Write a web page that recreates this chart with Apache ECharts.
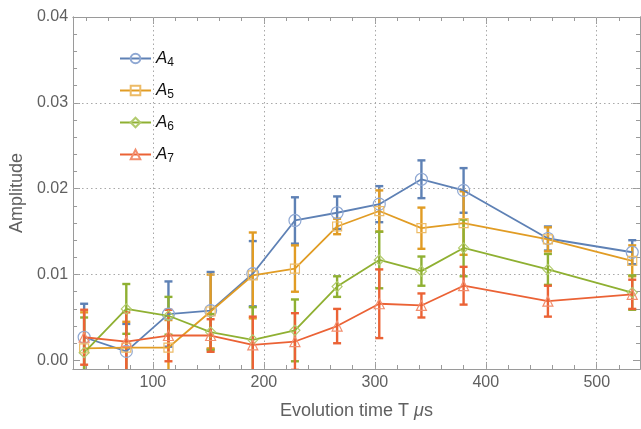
<!DOCTYPE html>
<html>
<head>
<meta charset="utf-8">
<script src="https://cdn.jsdelivr.net/npm/echarts@6/dist/echarts.min.js"></script>
<style>html,body{margin:0;padding:0;background:#fff}#c{width:641px;height:429px}</style>
</head>
<body>
<div id="c"></div>
<script>
// ---- data ----
const times = [38, 76, 114, 152, 190, 228, 266, 304, 342, 380, 456, 532];
const A4 = [0.0027, 0.00105, 0.0054, 0.0058, 0.0101, 0.0163, 0.0172, 0.0182, 0.0211, 0.0198, 0.0142, 0.0126];
const A4err = [0.0039, 0.0032, 0.0038, 0.0045, 0.0038, 0.0027, 0.0019, 0.0021, 0.0022, 0.0026, 0.0014, 0.0014];
const A5 = [0.0014, 0.0015, 0.0015, 0.0057, 0.0099, 0.0107, 0.0156, 0.0174, 0.0154, 0.0160, 0.0141, 0.0116];
const A5err = [0.0042, 0.0030, 0.0032, 0.0043, 0.0050, 0.0027, 0.0009, 0.0024, 0.0024, 0.0037, 0.0014, 0.0018];
const A6 = [0.0009, 0.0060, 0.0052, 0.0033, 0.0024, 0.0035, 0.0086, 0.0117, 0.0104, 0.0131, 0.0106, 0.0079];
const A6err = [0.0041, 0.0029, 0.0022, 0.0021, 0.0038, 0.0036, 0.0012, 0.0033, 0.0017, 0.0033, 0.0018, 0.0020];
const A7 = [0.0027, 0.0022, 0.0029, 0.0029, 0.0018, 0.0022, 0.0040, 0.0066, 0.0064, 0.0087, 0.0069, 0.0077];
const A7err = [0.0032, 0.0034, 0.0030, 0.0019, 0.0033, 0.0033, 0.0020, 0.0040, 0.0014, 0.0022, 0.0018, 0.0017];
const seriesNames = ['A4', 'A5', 'A6', 'A7'];
const xMajorTicks = [100, 200, 300, 400, 500];
const yMajorTicks = [0, 0.01, 0.02, 0.03, 0.04];
const xGridLines = [100, 200, 300, 400, 500];
const yGridLines = [0.01, 0.02, 0.03];

// ---- styling ----
const colors = ['#5E81B5', '#E19C24', '#8FB032', '#EB6235'];
const lightColors = ['#8FA8D3', '#EDBB66', '#B2CB6E', '#F28E6E'];
const symbols = ['circle', 'rect', 'diamond', 'triangle'];
const symSizes = [12, 9, 10, 10];
const values = [A4, A5, A6, A7];
const errs = [A4err, A5err, A6err, A7err];

const xMinor = []; for (let v = 40; v <= 539; v += 20) xMinor.push(v);
const yMinor = []; for (let i = 0; i <= 20; i++) yMinor.push(+(i * 0.002).toFixed(3));

const frameColor = '#9a9a9a';
const labelColor = '#606060';
const FONT = 'Liberation Sans, Arial';

function xAx(pos, ticks, len, labels) {
  return {
    type: 'value', min: 28, max: 539, position: pos,
    axisLine: { show: true, onZero: false, lineStyle: { color: frameColor, width: 1 } },
    axisTick: { show: true, inside: true, length: len, customValues: ticks, lineStyle: { color: frameColor } },
    axisLabel: labels ? { show: true, customValues: ticks, color: labelColor, fontSize: 16, fontFamily: FONT, margin: 6 } : { show: false },
    splitLine: { show: false }
  };
}
function yAx(pos, ticks, len, labels) {
  return {
    type: 'value', min: -0.001, max: 0.04, position: pos,
    axisLine: { show: true, onZero: false, lineStyle: { color: frameColor, width: 1 } },
    axisTick: { show: true, inside: true, length: len, customValues: ticks, lineStyle: { color: frameColor } },
    axisLabel: labels ? { show: true, customValues: ticks, color: labelColor, fontSize: 16, fontFamily: FONT, margin: 5, formatter: v => v.toFixed(2) } : { show: false },
    splitLine: { show: false }
  };
}

const xAxes = [
  Object.assign(xAx('bottom', xMajorTicks, 7, true), {
    name: 'Evolution time T {i|μ}s', nameLocation: 'middle', nameGap: 33,
    nameTextStyle: { color: labelColor, fontSize: 18, fontFamily: FONT, rich: { i: { fontStyle: 'italic', fontSize: 18, color: labelColor, fontFamily: FONT } } }
  }),
  xAx('bottom', xMinor, 4, false),
  xAx('top', xMajorTicks, 7, false),
  xAx('top', xMinor, 4, false)
];
const yAxes = [
  Object.assign(yAx('left', yMajorTicks, 7, true), {
    name: 'Amplitude', nameLocation: 'middle', nameGap: 45,
    nameTextStyle: { color: labelColor, fontSize: 18, fontFamily: FONT }
  }),
  yAx('left', yMinor, 4, false),
  yAx('right', yMajorTicks, 7, false),
  yAx('right', yMinor, 4, false)
];

const series = [];
// grid lines
series.push({
  type: 'line', data: [], silent: true, xAxisIndex: 0, yAxisIndex: 0,
  markLine: {
    silent: true, symbol: ['none', 'none'], label: { show: false }, animation: false,
    lineStyle: { color: '#a8a8a8', type: [1.5, 3], width: 1 },
    data: xGridLines.map(v => ({ xAxis: v })).concat(yGridLines.map(v => ({ yAxis: v })))
  }
});
values.forEach((vals, k) => {
  series.push({
    type: 'custom', name: seriesNames[k] + ' error', clip: true, z: 3 + k,
    data: times.map((t, i) => [t, vals[i], errs[k][i]]),
    encode: { x: 0, y: 1 },
    renderItem: function (params, api) {
      const x = api.value(0), y = api.value(1), e = api.value(2);
      const top = api.coord([x, y + e]);
      const bot = api.coord([x, y - e]);
      const hw = 4;
      const st = { stroke: colors[k], lineWidth: 2.4 };
      return {
        type: 'group', children: [
          { type: 'line', shape: { x1: top[0], y1: top[1], x2: bot[0], y2: bot[1] }, style: st },
          { type: 'line', shape: { x1: top[0] - hw, y1: top[1], x2: top[0] + hw, y2: top[1] }, style: st },
          { type: 'line', shape: { x1: bot[0] - hw, y1: bot[1], x2: bot[0] + hw, y2: bot[1] }, style: st }
        ]
      };
    }
  });
  series.push({
    type: 'line', name: seriesNames[k], z: 10 + k,
    data: times.map((t, i) => [t, vals[i]]),
    symbol: symbols[k], symbolSize: symSizes[k], showAllSymbol: true,
    lineStyle: { color: colors[k], width: 1.8 },
    itemStyle: { color: 'rgba(255,255,255,0)', borderColor: lightColors[k], borderWidth: 1.2 },
    emphasis: { disabled: true }
  });
});

const chart = echarts.init(document.getElementById('c'), null, { renderer: 'canvas' });
chart.setOption({
  animation: false,
  backgroundColor: '#ffffff',
  grid: { left: 73, right: 1, top: 17, bottom: 60, containLabel: false },
  xAxis: xAxes,
  yAxis: yAxes,
  legend: {
    data: seriesNames,
    orient: 'vertical', left: 114, top: 45, itemWidth: 31, itemHeight: 12, itemGap: 13,
    formatter: n => '{a|A}{s|' + n.slice(1) + '}',
    textStyle: {
      color: '#111', fontSize: 17,
      rich: {
        a: { fontStyle: 'italic', fontSize: 17, color: '#111', fontFamily: FONT },
        s: { fontSize: 12, color: '#111', verticalAlign: 'bottom', padding: [9, 0, 0, 0], fontFamily: FONT }
      }
    }
  },
  series: series
});
</script>
</body>
</html>
